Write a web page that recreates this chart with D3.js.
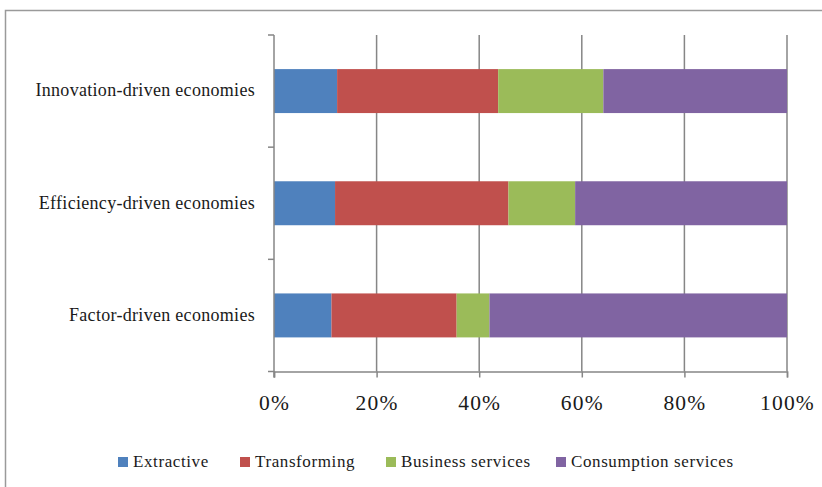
<!DOCTYPE html>
<html>
<head>
<meta charset="utf-8">
<script src="https://cdn.jsdelivr.net/npm/d3@7"></script>
<style>
  html, body { margin: 0; padding: 0; background: #fff; }
  svg text { font-family: "Liberation Serif", "DejaVu Serif", serif; fill: #1a1a1a; }
</style>
</head>
<body>
<svg id="chart" width="822" height="487"></svg>
<script>
// Share of early-stage activity by sector, per economy group (percent)
const categories = ["Innovation-driven economies", "Efficiency-driven economies", "Factor-driven economies"];
const seriesNames = ["Extractive", "Transforming", "Business services", "Consumption services"];
const extractive   = [12.3, 11.9, 11.2];
const transforming = [31.4, 33.8, 24.4];
const business     = [20.5, 13.0, 6.4];
const consumption  = [35.8, 41.3, 58.0];
const tickValues = [0, 20, 40, 60, 80, 100];
const colors = ["#4F81BD", "#C0504D", "#9BBB59", "#8064A2"];

const rows = categories.map((c, i) => ({
  category: c,
  "Extractive": extractive[i],
  "Transforming": transforming[i],
  "Business services": business[i],
  "Consumption services": consumption[i]
}));

const svg = d3.select("#chart");

// outer chart frame
svg.append("rect")
  .attr("x", 5.5).attr("y", 10.5)
  .attr("width", 840).attr("height", 500)
  .attr("fill", "#fff")
  .attr("stroke", "#9a9a9a").attr("stroke-width", 1.5);

const plot = { left: 274, right: 787, top: 35, bottom: 371.5 };

const x = d3.scaleLinear().domain([0, 100]).range([plot.left, plot.right]);
const y = d3.scaleBand().domain(categories)
  .range([plot.top, plot.bottom])
  .paddingInner(0.608).paddingOuter(0.304);

// vertical gridlines
svg.append("g")
  .selectAll("line")
  .data(tickValues.filter(v => v > 0))
  .join("line")
  .attr("x1", d => x(d)).attr("x2", d => x(d))
  .attr("y1", plot.top).attr("y2", plot.bottom)
  .attr("stroke", "#868686").attr("stroke-width", 1.5);

// stacked bars
const stack = d3.stack().keys(seriesNames)(rows);
const color = d3.scaleOrdinal().domain(seriesNames).range(colors);

svg.append("g")
  .selectAll("g")
  .data(stack)
  .join("g")
  .attr("fill", d => color(d.key))
  .selectAll("rect")
  .data(d => d)
  .join("rect")
  .attr("x", d => x(d[0]))
  .attr("width", d => x(d[1]) - x(d[0]))
  .attr("y", d => y(d.data.category))
  .attr("height", y.bandwidth());

// x axis (bottom)
const xAxis = d3.axisBottom(x)
  .tickValues(tickValues)
  .tickFormat(d => d + "%")
  .tickSize(6)
  .tickPadding(17);

const gx = svg.append("g")
  .attr("transform", `translate(0,${plot.bottom})`)
  .call(xAxis);
gx.select(".domain").attr("stroke", "#868686").attr("stroke-width", 1.5);
gx.selectAll(".tick line").attr("stroke", "#868686").attr("stroke-width", 1.5);
gx.selectAll(".tick text")
  .style("font-size", "21.5px")
  .style("letter-spacing", "1.2px")
  .attr("fill", "#1a1a1a");

// y axis (left) with ticks at category boundaries
const gy = svg.append("g");
gy.append("line")
  .attr("x1", plot.left).attr("x2", plot.left)
  .attr("y1", plot.top).attr("y2", plot.bottom + 6)
  .attr("stroke", "#868686").attr("stroke-width", 1.5);

const step = y.step();
const boundaries = d3.range(categories.length + 1).map(i => plot.top + i * step);
gy.selectAll("line.tick")
  .data(boundaries)
  .join("line")
  .attr("class", "tick")
  .attr("x1", plot.left - 6).attr("x2", plot.left)
  .attr("y1", d => d).attr("y2", d => d)
  .attr("stroke", "#868686").attr("stroke-width", 1.5);

gy.selectAll("text")
  .data(categories)
  .join("text")
  .attr("x", 255)
  .attr("y", d => y(d) + y.bandwidth() / 2)
  .attr("dy", "0.3em")
  .attr("text-anchor", "end")
  .style("font-size", "18px")
  .style("letter-spacing", "0.3px")
  .text(d => d);

// legend
const legendItems = [
  { name: seriesNames[0], x: 118 },
  { name: seriesNames[1], x: 240 },
  { name: seriesNames[2], x: 386 },
  { name: seriesNames[3], x: 556 }
];
const legend = svg.append("g").attr("transform", "translate(0,462)");
const li = legend.selectAll("g").data(legendItems).join("g")
  .attr("transform", d => `translate(${d.x},0)`);
li.append("rect")
  .attr("x", 0).attr("y", -5)
  .attr("width", 10).attr("height", 10)
  .attr("fill", d => color(d.name));
li.append("text")
  .attr("x", 15).attr("y", 0)
  .attr("dy", "0.32em")
  .style("font-size", "17px")
  .style("letter-spacing", "0.6px")
  .text(d => d.name);
</script>
</body>
</html>
